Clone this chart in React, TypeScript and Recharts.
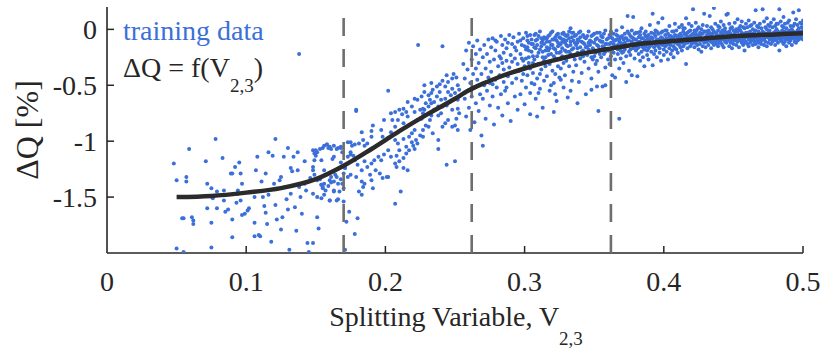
import React from 'react';
import { ComposedChart, Scatter, Line, XAxis, YAxis, ReferenceLine } from 'recharts';

const FONT = '"Liberation Serif", "Times New Roman", serif';
const BLUE = '#3b6fd9';
const INK = '#262626';

// axis ticks
const xTicks = [0, 0.1, 0.2, 0.3, 0.4, 0.5];
const yTicks = [-1.5, -1, -0.5, 0];
const xDomain = [0, 0.5];
const yDomain = [-2, 0.2];

// split positions (dashed lines)
const splitPoints = [0.17, 0.262, 0.362];

// fitted curve dQ = f(V_2,3)
const fitX = [0.05, 0.075, 0.1, 0.125, 0.15, 0.17, 0.19, 0.21, 0.23, 0.25, 0.26, 0.27, 0.28, 0.29, 0.3, 0.32, 0.34, 0.36, 0.38, 0.4, 0.42, 0.44, 0.46, 0.48, 0.5];
const fitY = [-1.5, -1.49, -1.46, -1.42, -1.34, -1.22, -1.07, -0.91, -0.76, -0.62, -0.545, -0.485, -0.435, -0.39, -0.35, -0.28, -0.22, -0.175, -0.135, -0.11, -0.09, -0.07, -0.055, -0.045, -0.035];

// training data, low V region (x < 0.18)
const sparseLeft: number[][] = [
  [.048,-1.20],[.050,-1.35],[.057,-1.32],[.057,-1.36],[.059,-1.07],[.054,-1.69],[.055,-1.69],[.061,-1.68],[.062,-1.71],[.062,-1.74],[.050,-1.96],[.055,-1.99],
  [.071,-1.18],[.072,-1.38],[.075,-1.42],[.076,-1.51],[.072,-1.60],[.075,-1.73],[.075,-1.95],[.078,-.98],[.079,-1.45],[.079,-1.60],[.083,-1.15],[.084,-1.44],
  [.084,-1.53],[.085,-1.63],[.087,-1.61],[.089,-1.29],[.090,-1.29],[.090,-1.70],[.090,-1.86],[.092,-1.23],[.094,-1.44],[.094,-1.47],[.095,-1.19],[.096,-1.29],
  [.097,-1.38],[.096,-1.53],[.093,-1.55],[.097,-1.66],[.099,-1.65],[.101,-1.62],[.102,-1.60],[.106,-1.50],[.107,-1.26],[.106,-1.73],[.106,-1.85],[.109,-1.84],
  [.110,-1.85],[.108,-1.14],[.111,-1.36],[.112,-1.50],[.113,-1.58],[.114,-1.29],[.114,-1.64],[.116,-1.10],[.115,-1.74],[.116,-1.48],[.118,-1.90],[.119,-1.13],
  [.120,-1.38],[.121,-.98],[.121,-1.57],[.122,-1.70],[.124,-1.35],[.125,-1.32],[.125,-1.79],[.126,-1.68],[.127,-1.14],[.128,-1.41],[.129,-1.52],[.130,-1.06],
  [.130,-1.61],[.131,-1.97],[.132,-1.47],[.132,-1.24],[.133,-1.27],[.134,-1.14],[.135,-1.59],[.136,-1.80],[.137,-1.10],[.137,-1.26],[.138,-1.41],[.139,-1.50],
  [.140,-1.65],[.142,-1.18],[.142,-1.38],[.143,-1.44],[.144,-1.91],[.145,-1.99],[.146,-1.33],[.148,-1.91],[.148,-1.23],[.149,-1.11],[.150,-1.08],[.151,-1.68],
  [.152,-1.78],[.153,-1.34],[.154,-1.39],[.155,-1.42],[.154,-1.17],[.156,-1.26],[.157,-1.30],[.158,-1.03],[.160,-1.05],[.160,-1.53],[.161,-1.37],[.162,-1.16],
  [.163,-1.14],[.163,-1.45],[.165,-1.32],[.166,-1.52],[.166,-1.06],[.168,-1.05],[.168,-1.19],[.169,-1.38],[.170,-1.42],[.171,-1.24],[.171,-1.97],[.172,-1.72],
  [.173,-1.01],[.175,-1.12],[.176,-1.04],[.174,-1.63],[.179,-.72],[.178,-1.83],[.180,-1.69],[.138,-.22],
];

// training data, steep part (0.145 - 0.255)
const risingBand: number[][] = [
  [.148,-1.08],[.150,-1.13],[.149,-1.17],[.151,-1.10],[.153,-1.07],[.155,-1.06],[.156,-1.04],[.158,-1.03],[.159,-1.06],[.161,-1.07],[.163,-1.04],[.165,-1.07],
  [.168,-1.06],[.169,-1.10],[.148,-1.26],[.149,-1.30],[.151,-1.35],[.154,-1.39],[.155,-1.41],[.156,-1.38],[.157,-1.44],[.159,-1.40],[.160,-1.35],[.161,-1.32],
  [.163,-1.36],[.164,-1.30],[.166,-1.38],[.168,-1.34],[.170,-1.29],[.171,-1.24],[.148,-1.47],[.151,-1.50],[.154,-1.51],[.156,-1.48],[.160,-1.53],[.165,-1.53],
  [.170,-1.54],[.163,-1.44],[.167,-1.45],[.175,-1.01],[.178,-1.03],[.181,-1.02],[.184,-.99],[.185,-1.04],[.187,-1.02],[.190,-.96],[.190,-.91],[.183,-.92],
  [.191,-.86],[.197,-.90],[.198,-.96],[.199,-.81],[.205,-.81],[.204,-.75],[.207,-.74],[.210,-.72],[.212,-.76],[.213,-.71],[.215,-.74],[.216,-.78],
  [.213,-.84],[.209,-.81],[.207,-.87],[.204,-.92],[.202,-.97],[.207,-.99],[.209,-1.02],[.213,-.98],[.217,-.96],[.219,-.93],[.221,-.90],[.223,-.81],
  [.226,-.80],[.227,-.75],[.228,-.72],[.229,-.66],[.232,-.63],[.231,-.59],[.228,-.56],[.233,-.57],[.234,-.54],[.237,-.51],[.239,-.49],[.241,-.46],
  [.244,-.41],[.245,-.47],[.248,-.44],[.249,-.40],[.251,-.43],[.252,-.50],[.253,-.54],[.250,-.57],[.247,-.59],[.243,-.62],[.240,-.63],[.238,-.69],
  [.235,-.72],[.233,-.77],[.232,-.81],[.229,-.86],[.227,-.90],[.225,-.95],[.222,-.99],[.220,-1.04],[.217,-1.08],[.215,-1.11],[.213,-1.15],[.210,-1.18],
  [.207,-1.20],[.204,-1.14],[.202,-1.08],[.199,-1.12],[.197,-1.17],[.195,-1.14],[.192,-1.17],[.190,-1.20],[.187,-1.23],[.185,-1.18],[.183,-1.26],[.180,-1.21],
  [.178,-1.17],[.177,-1.13],[.175,-1.10],[.173,-1.14],[.173,-1.32],[.175,-1.30],[.179,-1.32],[.183,-1.36],[.184,-1.41],[.181,-1.45],[.183,-1.48],[.185,-1.38],
  [.189,-1.30],[.190,-1.35],[.191,-1.42],[.193,-1.26],[.196,-1.29],[.198,-1.33],[.201,-1.32],[.202,-1.32],[.208,-1.23],[.213,-1.24],[.216,-1.26],[.211,-1.45],
  [.207,-1.56],[.244,-1.21],[.250,-1.18],[.238,-1.07],[.202,-.55],[.179,-.73],[.248,-.72],[.252,-.71],[.253,-.75],[.251,-.80],[.250,-.86],[.252,-.90],
  [.248,-.87],[.245,-.81],[.243,-.84],[.240,-.75],[.238,-.77],[.241,-.69],[.244,-.68],[.246,-.65],[.252,-.63],[.253,-.60],[.248,-.53],[.245,-.56],
  [.243,-.51],[.239,-.56],[.237,-.60],[.235,-.65],[.233,-.66],[.231,-.69],[.227,-.71],[.225,-.72],[.221,-.74],[.219,-.69],[.216,-.65],[.221,-.62],
  [.223,-.63],[.226,-.60],[.233,-.48],[.228,-.50],[.241,-.87],[.238,-.99],[.234,-.93],[.231,-.87],[.227,-.96],[.223,-1.02],[.221,-1.07],[.219,-1.01],
  [.215,-1.05],[.210,-1.08],[.208,-1.13],[.2235,-.14],[.241,-.15],
];

// training data, knee region (0.255 - 0.36)
const upperBand: number[][] = [
  [.256,-.31],[.257,-.62],[.257,-.44],[.258,-.78],[.258,-.19],[.259,-.55],[.259,-.36],[.260,-.70],[.260,-.12],[.261,-.48],[.261,-.90],[.262,-.27],
  [.262,-.60],[.263,-.40],[.263,-.15],[.264,-.83],[.264,-.52],[.265,-.22],[.265,-.66],[.265,-.35],[.266,-.45],[.266,-.10],[.267,-.73],[.267,-.30],
  [.268,-.58],[.268,-.18],[.269,-.95],[.269,-.40],[.270,-1.04],[.270,-.25],[.270,-.62],[.271,-.50],[.271,-.14],[.272,-.35],[.272,-.80],[.273,-.22],
  [.273,-.55],[.274,-.43],[.274,-.09],[.275,-.68],[.275,-.29],[.275,-.48],[.276,-.16],[.276,-.38],[.277,-.60],[.277,-.08],[.278,-.27],[.278,-.85],
  [.279,-.45],[.279,-.19],[.280,-.52],[.280,-.11],[.281,-.33],[.281,-.70],[.282,-.24],[.282,-.41],[.283,-.06],[.283,-.58],[.284,-.30],[.284,-.14],
  [.284,-.77],[.285,-.47],[.285,-.21],[.285,-.36],[.279,-.10],[.283,-.26],[.277,-.49],[.286,-.09],[.286,-.55],[.287,-.28],[.287,-.17],[.288,-.42],
  [.288,-.66],[.289,-.05],[.289,-.34],[.290,-.23],[.290,-.82],[.291,-.13],[.291,-.48],[.292,-.38],[.292,-.07],[.293,-.60],[.293,-.26],[.294,-.19],
  [.294,-.44],[.295,-.11],[.295,-.72],[.295,-.31],[.288,-.12],[.291,-.29],[.293,-.16],[.287,-.52],[.296,-.04],[.296,-.37],[.297,-.22],[.297,-.58],
  [.298,-.14],[.298,-.46],[.299,-.28],[.299,-.08],[.300,-.67],[.300,-.33],[.301,-.18],[.301,-.52],[.302,-.06],[.302,-.41],[.303,-.25],[.303,-.12],
  [.304,-.76],[.304,-.35],[.305,-.20],[.305,-.48],[.297,-.10],[.299,-.40],[.301,-.03],[.303,-.30],[.305,-.09],[.298,-.26],[.302,-.16],[.304,-.57],
  [.306,-.13],[.306,-.39],[.307,-.05],[.307,-.27],[.308,-.62],[.308,-.17],[.309,-.44],[.309,-.09],[.310,-.31],[.310,-.21],[.311,-.53],[.311,-.02],
  [.312,-.36],[.312,-.12],[.313,-.70],[.313,-.25],[.314,-.07],[.314,-.46],[.315,-.19],[.315,-.33],[.306,-.24],[.308,-.04],[.310,-.57],[.312,-.15],
  [.314,-.28],[.307,-.49],[.309,-.14],[.311,-.40],[.313,-.10],[.315,-.08],[.316,-.16],[.316,-.42],[.317,-.06],[.317,-.29],[.318,-.11],[.318,-.55],
  [.319,-.22],[.319,-.03],[.320,-.37],[.320,-.14],[.321,-.48],[.321,-.09],[.322,-.26],[.322,-.18],[.323,-.64],[.323,-.05],[.324,-.33],[.324,-.12],
  [.325,-.43],[.325,-.21],[.316,-.08],[.318,-.31],[.320,-.02],[.322,-.40],[.324,-.15],[.317,-.19],[.319,-.50],[.321,-.24],[.323,-.10],[.325,-.07],
  [.318,-.17],[.322,-.58],[.326,-.13],[.326,-.35],[.327,-.04],[.327,-.24],[.328,-.52],[.328,-.09],[.329,-.19],[.329,-.41],[.330,-.06],[.330,-.28],
  [.331,-.15],[.331,-.61],[.332,-.02],[.332,-.33],[.333,-.11],[.333,-.22],[.334,-.46],[.334,-.07],[.335,-.17],[.335,-.38],[.326,-.20],[.327,-.11],
  [.328,-.30],[.329,-.05],[.330,-.14],[.331,-.25],[.332,-.08],[.333,-.55],[.334,-.18],[.335,-.10],[.336,-.27],[.326,-.45],[.330,-.20],[.333,.01],
  [.335,-.03],[.336,-.06],[.337,-.14],[.337,-.32],[.338,-.09],[.338,-.21],[.339,-.47],[.339,-.03],[.340,-.16],[.340,-.26],[.341,-.11],[.341,-.39],
  [.342,-.05],[.342,-.19],[.343,-.13],[.343,-.29],[.344,-.58],[.344,-.08],[.345,-.23],[.345,-.15],[.346,-.02],[.346,-.35],[.347,-.10],[.347,-.20],
  [.348,-.44],[.348,-.06],[.349,-.17],[.349,-.27],[.350,-.12],[.350,-.04],[.351,-.31],[.351,-.21],[.352,-.08],[.352,-.14],[.353,-.73],[.353,-.38],
  [.354,-.18],[.354,-.03],[.355,-.25],[.355,-.11],[.356,-.51],[.356,-.07],[.357,-.16],[.357,-.22],[.358,-.01],[.358,-.34],[.359,-.13],[.359,-.09],
  [.360,-.27],[.360,-.19],[.338,-.12],[.340,-.07],[.342,-.24],[.344,-.16],[.346,-.12],[.348,-.25],[.350,-.19],[.352,-.28],[.354,-.10],[.356,-.15],
  [.358,-.20],[.338,-.66],[.321,-.74],[.309,-.78],[.348,-.54],[.352,-.51],[.358,-.50],
  [.300,-.15],[.301,-.26],[.302,-.10],[.303,-.19],[.304,-.05],[.305,-.13],[.306,-.30],[.307,-.16],[.308,-.10],[.309,-.24],[.310,-.06],[.311,-.18],
  [.312,-.08],[.313,-.20],[.314,-.13],[.315,-.25],[.316,-.11],[.317,-.23],[.318,-.05],[.319,-.14],[.320,-.09],[.321,-.17],[.322,-.07],[.323,-.21],
  [.324,-.04],[.325,-.14],[.326,-.08],[.327,-.17],[.328,-.03],[.329,-.12],[.330,-.10],[.331,-.05],[.332,-.20],[.333,-.14],[.334,-.03],[.335,-.24],
  [.336,-.12],[.337,-.05],[.338,-.17],[.339,-.10],[.340,-.02],[.341,-.20],[.342,-.12],[.343,-.07],[.344,-.22],[.345,-.06],[.346,-.18],[.347,-.14],
  [.348,-.11],[.349,-.05],[.350,-.24],[.351,-.09],[.352,-.03],[.353,-.15],[.354,-.22],[.355,-.06],[.356,-.11],[.357,-.04],[.358,-.13],[.359,-.18],
  [.360,-.08],
];

// training data, plateau (x, then dQ readings at that x)
const plateauRows: number[][] = [
  [.361,-.05,-.19,-.31,-.13],[.362,-.12,-.02,-.24,-.07],[.363,-.16,-.08,-.41,-.20],[.364,-.21,-.04,-.13,-.10],[.365,-.10,-.27,-.43,-.15],
  [.366,-.01,-.17,-.09,-.05],[.367,-.14,-.22,-.06,-.18],[.368,-.35,-.11,-.80,-.09],[.369,-.19,-.07,-.26,-.12],[.370,-.13,.02,-.21,-.06],
  [.371,-.09,-.30,-.16,-.20],[.372,-.04,-.18,-.12,-.08],[.373,-.24,-.08,-.47,-.14],[.374,-.15,.12,-.02,-.10],[.375,-.20,-.37,-.10,-.04],
  [.376,-.06,-.14,-.23,-.18],[.377,-.41,-.11,-.01,-.07],[.378,-.17,.11,-.08,-.13],[.379,-.26,-.13,-.04,-.09],[.380,-.09,-.19,-.15,-.03],
  [.381,-.42,-.03,-.12,-.17],[.382,-.22,-.07,-.16,-.11],[.383,-.11,-.28,-.05,-.02],[.384,-.14,.01,-.20,-.08],[.385,-.08,-.25,-.12,-.16],
  [.386,-.18,-.04,-.33,-.11],[.387,-.10,-.15,-.02,-.06],[.388,-.23,-.07,-.13,-.19],[.389,-.05,-.17,-.27,-.10],[.390,-.12,.04,-.09,-.15],
  [.391,-.20,-.14,-.03,-.07],[.392,-.32,.14,-.08,-.12],[.393,-.16,-.11,-.22,-.04],[.394,-.06,-.19,-.01,-.14],[.395,-.13,-.25,-.09,-.02],
  [.396,-.04,-.15,.06,-.09],[.397,-.21,-.10,-.17,-.13],[.398,-.07,-.28,-.12,-.03],[.399,-.14,.10,-.02,-.08],[.400,-.18,-.09,-.23,-.13],
  [.401,-.11,-.05,-.15,-.01],[.402,-.20,-.01,-.08,-.14],[.403,-.27,-.13,-.04,-.09],[.404,-.09,-.17,.03,-.06],[.405,-.14,-.06,-.22,-.11],
  [.406,-.02,-.19,-.11,-.07],[.407,-.15,-.08,-.25,-.02],[.408,-.05,-.12,.05,-.17],[.409,-.18,-.10,-.01,-.06],[.410,-.07,-.21,-.13,-.10],
  [.411,-.14,.02,-.09,-.05],[.412,-.04,-.16,-.11,-.08],[.413,-.19,-.06,.04,-.12],[.414,-.10,-.02,-.15,.01],[.415,-.13,-.08,.01,-.04],
  [.416,-.31,.10,-.05,-.10],[.417,-.12,-.03,-.17,-.07],[.418,-.07,.05,-.10,-.02],[.419,-.15,-.01,-.06,-.11],[.420,-.09,-.13,.03,-.05],
  [.421,.18,-.04,-.11,-.08],[.422,-.16,-.07,-.01,-.12],[.423,-.02,-.12,.06,-.05],[.424,-.10,-.05,-.14,.00],[.425,-.06,.02,-.18,-.10],
  [.426,-.13,-.08,-.03,-.06],[.427,-.20,.00,-.10,-.04],[.428,-.04,-.15,.04,-.09],[.429,.14,-.09,-.12,-.02],[.430,-.07,-.02,-.16,-.11],
  [.431,-.11,.03,-.05,-.08],[.432,-.14,-.08,-.01,-.04],[.433,-.03,.12,-.10,-.07],[.434,-.17,-.06,.02,-.11],[.435,-.09,-.12,-.04,.00],
  [.436,.19,-.02,-.14,-.08],[.437,-.07,.05,-.11,-.03],[.438,-.13,-.04,-.08,-.10],[.439,-.01,-.15,.03,-.06],[.440,-.10,-.06,-.12,.02],
  [.441,.07,-.09,-.03,-.12],[.442,-.14,-.01,-.07,-.04],[.443,-.05,.04,-.16,-.09],[.444,-.11,-.08,.01,-.02],[.445,.13,-.03,-.12,-.07],
  [.446,-.06,.14,-.10,-.03],[.447,-.15,-.02,.05,-.09],[.448,-.08,-.12,-.04,.01],[.449,.02,-.06,-.17,-.10],[.450,-.10,-.01,-.13,-.05],
  [.451,-.04,.06,-.09,-.02],[.452,-.14,-.07,.00,-.10],[.453,-.02,-.11,.09,-.06],[.454,-.08,-.16,-.05,.01],[.455,.03,-.10,-.01,-.07],
  [.456,-.12,-.06,.07,-.03],[.457,-.04,-.14,-.09,.02],[.458,.01,-.08,-.19,-.12],[.459,-.11,-.03,.05,-.07],[.460,-.06,-.13,.02,-.03],
  [.461,-.09,.08,-.15,-.05],[.462,-.02,-.07,-.12,.03],[.463,.04,-.10,-.05,-.08],[.464,-.14,.00,-.08,-.04],[.465,-.03,-.11,.06,-.08],
  [.466,.17,-.07,-.13,-.01],[.467,-.05,.03,-.10,-.07],[.468,-.12,-.02,-.16,.02],[.469,.05,-.08,-.04,-.11],[.470,-.10,.01,-.13,-.05],
  [.471,.18,-.06,-.02,-.09],[.472,-.09,.07,-.14,-.03],[.473,-.04,-.11,.02,-.07],[.474,-.07,.10,-.15,.00],[.475,-.12,-.03,.04,-.06],
  [.476,-.01,-.09,-.06,.03],[.477,.06,-.13,-.04,-.08],[.478,-.08,.02,-.11,-.04],[.479,-.03,-.06,.09,-.10],[.480,-.14,.03,-.07,-.02],
  [.481,-.05,-.10,.00,.05],[.482,.05,-.02,-.12,-.07],[.483,.18,-.19,-.08,-.03],[.484,-.04,.07,-.10,-.06],[.485,-.11,-.01,.03,-.08],
  [.486,-.06,.11,-.13,.02],[.487,-.02,-.08,.05,-.11],[.488,-.15,.01,-.05,-.03],[.489,-.09,.06,-.03,-.07],[.490,-.01,-.12,.08,-.05],
  [.491,-.07,.03,-.10,-.02],[.492,-.04,-.14,.00,-.08],[.493,.15,-.06,-.02,.03],[.494,-.11,.05,-.08,-.04],[.495,-.03,.09,-.12,-.07],
  [.496,-.06,-.01,.04,-.10],[.497,.17,-.09,-.04,.01],[.498,-.02,.06,-.07,-.04],[.499,-.08,.02,-.05,.05],[.500,-.04,.08,-.01,-.09],
];

const trainingData = [
  ...sparseLeft,
  ...risingBand,
  ...upperBand,
  ...plateauRows.flatMap(([x, ...ys]) => ys.map((y) => [x, y])),
].map(([x, y]) => ({ x, y }));

const fitData = fitX.map((x, i) => ({ x, y: fitY[i] }));

const MARGIN = { top: 7, right: 29, bottom: 36, left: 47 };

const Dot = (props: any) =>
  props.cx == null ? null : <circle cx={props.cx} cy={props.cy} r={2} fill={BLUE} />;

const YTick = ({ x, y, payload }: any) => (
  <g>
    <line x1={x + 10} x2={x + 17} y1={y} y2={y} stroke={INK} strokeWidth={1.5} />
    <text x={x} y={y + 10} textAnchor="end" fontSize={28} fontFamily={FONT} fill={INK}>
      {String(payload.value)}
    </text>
  </g>
);

const XTick = ({ x, y, payload }: any) => (
  <g>
    {payload.value > 0 && (
      <line x1={x} x2={x} y1={y - 38} y2={y - 45} stroke={INK} strokeWidth={1.5} />
    )}
    <text x={x} y={y} textAnchor="middle" fontSize={28} fontFamily={FONT} fill={INK}>
      {String(payload.value)}
    </text>
  </g>
);

// both layers share these axes so the scales line up exactly
const axes = (visible: boolean) => [
  <XAxis
    key="x"
    dataKey="x"
    type="number"
    domain={xDomain}
    ticks={xTicks}
    interval={0}
    allowDataOverflow
    height={60}
    tickSize={0}
    tickMargin={38}
    tickLine={false}
    axisLine={visible ? { stroke: INK, strokeWidth: 1.6 } : false}
    tick={visible ? <XTick /> : false}
  />,
  <YAxis
    key="y"
    dataKey="y"
    type="number"
    domain={yDomain}
    ticks={yTicks}
    interval={0}
    allowDataOverflow
    width={60}
    tickSize={0}
    tickMargin={10}
    tickLine={false}
    axisLine={visible ? { stroke: INK, strokeWidth: 1.6 } : false}
    tick={visible ? <YTick /> : false}
  />,
];

export default function App() {
  return (
    <div style={{ position: 'absolute', left: 0, top: 0, width: 832, height: 349, background: '#fff' }}>
      <ComposedChart width={832} height={349} margin={MARGIN}>
        {axes(true)}
        <Scatter data={trainingData} dataKey="y" shape={Dot} isAnimationActive={false} />
      </ComposedChart>

      <div style={{ position: 'absolute', left: 0, top: 0, pointerEvents: 'none' }}>
        <ComposedChart width={832} height={349} margin={MARGIN}>
          {axes(false)}
          {splitPoints.map((s) => (
            <ReferenceLine key={s} x={s} stroke="#6e6e6e" strokeWidth={2.6} strokeDasharray="18 13" />
          ))}
          <Line
            data={fitData}
            dataKey="y"
            type="monotone"
            stroke="#2b2b2b"
            strokeWidth={4.5}
            dot={false}
            activeDot={false}
            isAnimationActive={false}
          />
        </ComposedChart>
      </div>

      <svg
        width={832}
        height={349}
        style={{ position: 'absolute', left: 0, top: 0, pointerEvents: 'none' }}
        fontFamily={FONT}
      >
        <text transform="translate(38,130) rotate(-90)" textAnchor="middle" fontSize={32} fill={INK}>
          ΔQ [%]
        </text>
        <text x={456} y={326} textAnchor="middle" fontSize={28} fill={INK}>
          Splitting Variable, V<tspan dy={19} fontSize={19}>2,3</tspan>
        </text>
        <text x={123} y={40} fontSize={28} fill={BLUE}>
          training data
        </text>
        <text x={123} y={77} fontSize={28} fill={INK}>
          ΔQ = f(V<tspan dy={15} fontSize={19}>2,3</tspan>
          <tspan dy={-15}>)</tspan>
        </text>
      </svg>
    </div>
  );
}
